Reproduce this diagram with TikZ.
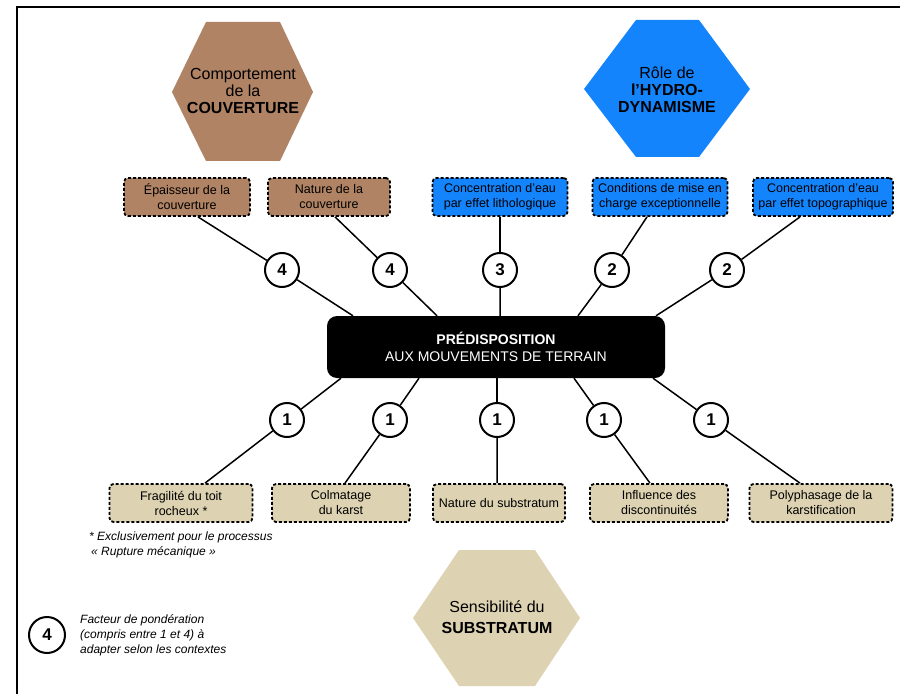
\documentclass[tikz,border=0pt]{standalone}
\usepackage{fontspec}
\setmainfont{Liberation Sans}
\definecolor{brownc}{RGB}{175,131,99}
\definecolor{bluec}{RGB}{20,132,252}
\definecolor{beigec}{RGB}{221,211,178}
\tikzset{
  hextext/.style={align=center,font=\fontsize{16bp}{17bp}\selectfont,text=black,inner sep=0},
  catbox/.style={draw=black,line width=1.8bp,dash pattern=on 3bp off 2bp,rounded corners=4bp,
     minimum height=38bp,align=center,inner sep=1bp,font=\fontsize{12.5bp}{15bp}\selectfont},
  weight/.style={circle,draw=black,line width=2bp,fill=white,minimum size=34bp,inner sep=0,
     font=\fontsize{17bp}{17bp}\selectfont\bfseries},
  link/.style={line width=1.5bp,draw=black},
  predbox/.style={fill=black,rounded corners=10bp,minimum width=338bp,minimum height=62bp,
     text=white,align=center,font=\fontsize{14bp}{17bp}\selectfont},
  notetext/.style={align=left,font=\fontsize{12bp}{15bp}\selectfont\itshape,inner sep=0}
}
\begin{document}
\begin{tikzpicture}[x=1bp,y=-1bp]
\useasboundingbox (0,0) rectangle (900,694);
\draw[line width=2bp] (17,694) -- (17,7) -- (900,7);

% hexagons
\fill[brownc] (172,92) -- (206,22) -- (280,22) -- (313,92) -- (280,161) -- (206,161) -- cycle;
\node[hextext] (hexA) at (243,91) {Comportement\\de la\\\textbf{COUVERTURE}};
\fill[bluec] (584,89) -- (636,20) -- (699,20) -- (750,89) -- (699,157) -- (636,157) -- cycle;
\node[hextext] (hexB) at (667,90) {Rôle de\\\textbf{l'HYDRO-}\\\textbf{DYNAMISME}};
\fill[beigec] (413,618) -- (459,550) -- (535,550) -- (580,618) -- (535,686) -- (459,686) -- cycle;
\node[hextext,font=\fontsize{16bp}{21bp}\selectfont] (hexC) at (497,617) {Sensibilité du\\\textbf{SUBSTRATUM}};

% central box
\node[predbox] (pred) at (496,347) {\textbf{PRÉDISPOSITION}\\AUX MOUVEMENTS DE TERRAIN};

% top boxes
\node[catbox,fill=brownc,minimum width=126bp] (t1) at (187,197) {Épaisseur de la\\couverture};
\node[catbox,fill=brownc,minimum width=122bp] (t2) at (329,197) {Nature de la\\couverture};
\node[catbox,fill=bluec,minimum width=135bp] (t3) at (500,197) {Concentration d'eau\\par effet lithologique};
\node[catbox,fill=bluec,minimum width=135bp] (t4) at (660,197) {Conditions de mise en\\charge exceptionnelle};
\node[catbox,fill=bluec,minimum width=140bp] (t5) at (823,197) {Concentration d'eau\\par effet topographique};

% bottom boxes
\node[catbox,fill=beigec,minimum width=143bp] (b1) at (181,503) {Fragilité du toit\\rocheux *};
\node[catbox,fill=beigec,minimum width=138bp] (b2) at (341,503) {Colmatage\\du karst};
\node[catbox,fill=beigec,minimum width=132bp] (b3) at (499,503) {Nature du substratum};
\node[catbox,fill=beigec,minimum width=138bp] (b4) at (659,503) {Influence des\\discontinuités};
\node[catbox,fill=beigec,minimum width=143bp] (b5) at (821,503) {Polyphasage de la\\karstification};

% weight circles
\node[weight] (c1) at (282,270) {4};
\node[weight] (c2) at (390,270) {4};
\node[weight] (c3) at (500,270) {3};
\node[weight] (c4) at (612,270) {2};
\node[weight] (c5) at (727,270) {2};
\node[weight] (d1) at (287,420) {1};
\node[weight] (d2) at (390,420) {1};
\node[weight] (d3) at (497,420) {1};
\node[weight] (d4) at (604,420) {1};
\node[weight] (d5) at (711,420) {1};

% links top
\draw[link] ([xshift=11bp]t1.south) -- (c1);
\draw[link] (c1) -- ([xshift=-143bp]pred.north);
\draw[link] ([xshift=6bp]t2.south) -- (c2);
\draw[link] (c2) -- ([xshift=-59bp]pred.north);
\draw[link] (t3.south) -- (c3);
\draw[link] (c3) -- ([xshift=4bp]pred.north);
\draw[link] ([xshift=-13bp]t4.south) -- (c4);
\draw[link] (c4) -- ([xshift=82bp]pred.north);
\draw[link] ([xshift=-23bp]t5.south) -- (c5);
\draw[link] (c5) -- ([xshift=160bp]pred.north);
% links bottom
\draw[link] ([xshift=-155bp]pred.south) -- (d1);
\draw[link] (d1) -- ([xshift=24bp]b1.north);
\draw[link] ([xshift=-77bp]pred.south) -- (d2);
\draw[link] (d2) -- ([xshift=4bp]b2.north);
\draw[link] ([xshift=1bp]pred.south) -- (d3);
\draw[link] (d3) -- ([xshift=-2bp]b3.north);
\draw[link] ([xshift=78bp]pred.south) -- (d4);
\draw[link] (d4) -- ([xshift=-9bp]b4.north);
\draw[link] ([xshift=157bp]pred.south) -- (d5);
\draw[link] (d5) -- ([xshift=-21bp]b5.north);

% notes
\node[notetext,anchor=north west] (note) at (89,532) {* Exclusivement pour le processus\\\hspace*{2bp}« Rupture mécanique »};
\node[weight,minimum size=36bp] (leg) at (47,635) {4};
\node[notetext,anchor=west] (legtext) at (80,635) {Facteur de pondération\\(compris entre 1 et 4) à\\adapter selon les contextes};
\end{tikzpicture}
\end{document}
